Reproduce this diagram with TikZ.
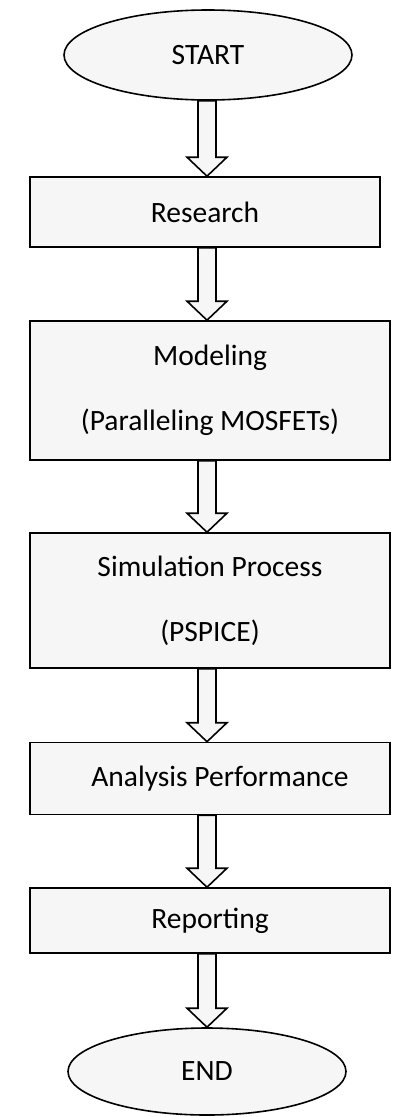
\documentclass[tikz,border=0pt]{standalone}
\usepackage{fontspec}
\setmainfont{Carlito}
\usetikzlibrary{shapes.geometric, calc}

% hollow block arrow from the bottom of #1 to the top of #2
\newcommand{\flowarrow}[2]{%
  \draw[arrowbody] ($(#1.south -| axis)+(-9,0)$) -- ($(#2.north -| axis)+(-9,-19)$)
    -- ($(#2.north -| axis)+(-20,-19)$) -- (#2.north -| axis)
    -- ($(#2.north -| axis)+(20,-19)$) -- ($(#2.north -| axis)+(9,-19)$)
    -- ($(#1.south -| axis)+(9,0)$) -- cycle;}

\begin{document}
\begin{tikzpicture}[x=1pt, y=-1pt,
  every node/.style={font=\fontsize{29.5}{36}\selectfont},
  terminal/.style={draw, ellipse, line width=1.6pt, fill=gray!7, inner sep=0pt},
  procbox/.style={draw, rectangle, line width=1.6pt, fill=gray!7, inner sep=0pt,
    minimum width=360pt, align=center},
  arrowbody/.style={draw, line width=1.6pt, fill=gray!7, line join=miter}]
\useasboundingbox (0,0) rectangle (404,1117);
\coordinate (axis) at (207,0);
% terminals
\node[terminal, minimum width=288pt, minimum height=90pt] (start) at (208,55) {START};
\node[terminal, minimum width=278pt, minimum height=87pt] (end) at (207,1071.5) {END};
% process steps
\node[procbox, minimum width=350pt, minimum height=70pt] (research) at (205,212) {Research};
\node[procbox, minimum height=139pt] (modeling) at (210,390.5)
  {Modeling\\[29pt](Paralleling MOSFETs)};
\node[procbox, minimum height=135pt] (simulation) at (210,600.5)
  {Simulation Process\\[29pt](PSPICE)};
\node[procbox, minimum height=72pt] (analysis) at (210,778.5)
  {\hspace*{20pt}Analysis Performance};
\node[procbox, minimum height=65pt] (reporting) at (210,920.5) {Reporting};
% connectors
\foreach \a/\b in {start/research, research/modeling, modeling/simulation,
  simulation/analysis, analysis/reporting, reporting/end}
  \flowarrow{\a}{\b};
\end{tikzpicture}
\end{document}
